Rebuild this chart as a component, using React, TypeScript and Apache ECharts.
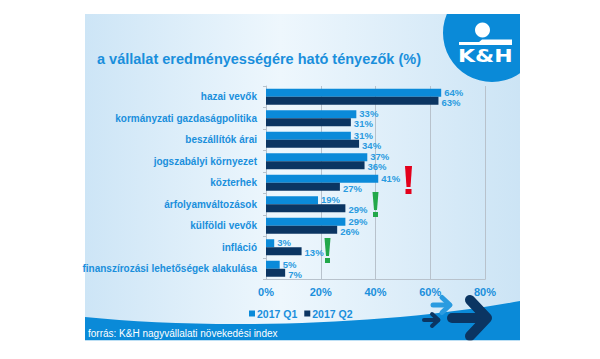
import React, { useEffect, useRef } from "react";
import * as echarts from "echarts";

const categories = [
  "hazai vevők",
  "kormányzati gazdaságpolitika",
  "beszállítók árai",
  "jogszabályi környezet",
  "közterhek",
  "árfolyamváltozások",
  "külföldi vevők",
  "infláció",
  "finanszírozási lehetőségek alakulása",
];
const q1Values = [64, 33, 31, 37, 41, 19, 29, 3, 5];
const q2Values = [63, 31, 34, 36, 27, 29, 26, 13, 7];
const seriesNames = ["2017 Q1", "2017 Q2"];
const xTicks = { min: 0, max: 80, interval: 20 };
const titleText = "a vállalat eredményességére ható tényezők (%)";
const sourceText = "forrás: K&H nagyvállalati növekedési index";

const LIGHT = "#0b8ad9";
const NAVY = "#0b3562";
const TEXTBLUE = "#1a8fdc";
const FONT = "Liberation Sans, Arial, sans-serif";

echarts.graphic.registerShape(
  "footerWave",
  echarts.graphic.extendPath("M85,317 C200,329 380,327 520,301 L520,340.5 L85,340.5 Z", {})
);

export default function App() {
  const ref = useRef<HTMLDivElement>(null);
  useEffect(() => {
    if (!ref.current) return;
    const chart = echarts.init(ref.current, undefined, { renderer: "svg" });
    const makeLabel = (dy: number) => ({
      show: true,
      position: "right",
      distance: 3,
      offset: [0, dy],
      formatter: "{c}%",
      color: "#2a9be0",
      fontWeight: "bold",
      fontSize: 9.5,
      lineHeight: 8,
      fontFamily: FONT,
    });
    chart.setOption({
      animation: false,
      textStyle: { fontFamily: FONT },
      grid: { left: 266, right: 115, top: 86, bottom: 79.5, containLabel: false },
      legend: {
        left: 244,
        top: 303,
        itemWidth: 6,
        itemHeight: 6,
        itemGap: 7,
        icon: "rect",
        data: seriesNames,
        textStyle: { color: TEXTBLUE, fontWeight: "bold", fontSize: 10.5, padding: [0, 0, 0, -3] },
      },
      xAxis: {
        type: "value",
        min: xTicks.min,
        max: xTicks.max,
        interval: xTicks.interval,
        axisLine: { show: true, lineStyle: { color: "#b8c2cc", width: 1 } },
        axisTick: { show: false },
        splitLine: { show: true, lineStyle: { color: "#b8c2cc", width: 1 } },
        axisLabel: {
          formatter: "{value}%",
          color: TEXTBLUE,
          fontWeight: "bold",
          fontSize: 11,
          margin: 7,
        },
      },
      yAxis: {
        type: "category",
        inverse: true,
        data: categories,
        axisLine: { show: true, lineStyle: { color: "#b8c2cc", width: 1 } },
        axisTick: { show: true, length: 3, lineStyle: { color: "#b8c2cc" } },
        axisLabel: {
          color: TEXTBLUE,
          fontWeight: "bold",
          fontSize: 10,
          margin: 9,
        },
      },
      series: [
        {
          name: seriesNames[0],
          type: "bar",
          data: q1Values,
          barWidth: 8,
          barGap: "0%",
          itemStyle: { color: LIGHT },
          label: makeLabel(-0.5),
        },
        {
          name: seriesNames[1],
          type: "bar",
          data: q2Values,
          barWidth: 8,
          barGap: "0%",
          itemStyle: { color: NAVY },
          label: makeLabel(1.5),
        },
      ],
      graphic: [
        {
          type: "rect",
          z: -100,
          silent: true,
          shape: { x: 85, y: 14, width: 435, height: 326.5 },
          style: {
            fill: new echarts.graphic.LinearGradient(0, 0, 1, 0, [
              { offset: 0, color: "#cde5f6" },
              { offset: 0.45, color: "#eef7fd" },
              { offset: 1, color: "#cce4f5" },
            ]),
          },
        },
        {
          type: "footerWave",
          z: 50,
          silent: true,
          style: { fill: "#0a8ad8" },
        },
        {
          type: "text",
          z: 51,
          x: 88,
          y: 333,
          style: {
            text: sourceText,
            fill: "#ffffff",
            fontSize: 10,
            fontFamily: FONT,
            verticalAlign: "middle",
          },
        },
        {
          type: "text",
          z: 51,
          x: 97,
          y: 59,
          style: {
            text: titleText,
            fill: TEXTBLUE,
            fontSize: 14.5,
            fontWeight: "bold",
            fontFamily: FONT,
            verticalAlign: "middle",
          },
        },
        // logo circle
        {
          type: "circle",
          z: 60,
          silent: true,
          shape: { cx: 492, cy: 33, r: 49 },
          style: { fill: "#0a8ad8" },
        },
        {
          type: "rect",
          z: 61,
          silent: true,
          shape: { x: 0, y: 0, width: 600, height: 14 },
          style: { fill: "#ffffff" },
        },
        {
          type: "rect",
          z: 61,
          silent: true,
          shape: { x: 520, y: 0, width: 80, height: 359 },
          style: { fill: "#ffffff" },
        },
        {
          type: "circle",
          z: 62,
          silent: true,
          shape: { cx: 482.5, cy: 30, r: 7.5 },
          style: { fill: "#ffffff" },
        },
        {
          type: "polygon",
          z: 62,
          silent: true,
          shape: {
            points: [
              [459, 42],
              [479, 42],
              [482, 39.5],
              [512, 39.5],
              [512, 45],
              [459, 45],
            ],
          },
          style: { fill: "#ffffff" },
        },
        {
          type: "text",
          z: 62,
          x: 458,
          y: 56,
          scaleX: 1.22,
          style: {
            text: "K&H",
            fill: "#ffffff",
            fontSize: 18,
            fontWeight: "bold",
            fontFamily: "DejaVu Sans, sans-serif",
            verticalAlign: "middle",
          },
        },
        // exclamation marks
        {
          type: "polygon",
          z: 40,
          silent: true,
          shape: { points: [[405, 166], [412, 166], [410.5, 187], [406.5, 187]] },
          style: { fill: "#e3001b" },
        },
        {
          type: "rect",
          z: 40,
          silent: true,
          shape: { x: 405.5, y: 189, width: 6, height: 5 },
          style: { fill: "#e3001b" },
        },
        {
          type: "polygon",
          z: 40,
          silent: true,
          shape: { points: [[372.5, 192], [378.5, 192], [377, 210], [374, 210]] },
          style: { fill: "#22a84a" },
        },
        {
          type: "rect",
          z: 40,
          silent: true,
          shape: { x: 373, y: 212, width: 5, height: 5 },
          style: { fill: "#22a84a" },
        },
        {
          type: "polygon",
          z: 40,
          silent: true,
          shape: { points: [[324.5, 238], [330.5, 238], [329, 256], [326, 256]] },
          style: { fill: "#22a84a" },
        },
        {
          type: "rect",
          z: 40,
          silent: true,
          shape: { x: 325, y: 258, width: 5, height: 5 },
          style: { fill: "#22a84a" },
        },
        // arrows
        {
          type: "polyline",
          z: 55,
          silent: true,
          shape: { points: [[433, 305], [449, 305]] },
          style: { stroke: "#2a9be0", lineWidth: 5, lineCap: "round", fill: null },
        },
        {
          type: "polyline",
          z: 55,
          silent: true,
          shape: { points: [[442, 297.5], [450, 305], [442, 312.5]] },
          style: { stroke: "#2a9be0", lineWidth: 5, lineCap: "round", lineJoin: "round", fill: null },
        },
        {
          type: "polyline",
          z: 55,
          silent: true,
          shape: { points: [[424, 320], [438, 320]] },
          style: { stroke: NAVY, lineWidth: 4, lineCap: "round", fill: null },
        },
        {
          type: "polyline",
          z: 55,
          silent: true,
          shape: { points: [[432, 314], [438.5, 320], [432, 326]] },
          style: { stroke: NAVY, lineWidth: 4, lineCap: "round", lineJoin: "round", fill: null },
        },
        {
          type: "polyline",
          z: 55,
          silent: true,
          shape: { points: [[452, 318], [485, 318]] },
          style: { stroke: NAVY, lineWidth: 10, lineCap: "round", fill: null },
        },
        {
          type: "polyline",
          z: 55,
          silent: true,
          shape: { points: [[470, 300], [487, 318], [470, 336]] },
          style: { stroke: NAVY, lineWidth: 10, lineCap: "round", lineJoin: "round", fill: null },
        },
        {
          type: "rect",
          z: 58,
          silent: true,
          shape: { x: 0, y: 340.5, width: 600, height: 20 },
          style: { fill: "#ffffff" },
        },
      ],
    });
    return () => chart.dispose();
  }, []);
  return (
    <div
      ref={ref}
      style={{ position: "fixed", left: 0, top: 0, width: 600, height: 359, background: "#ffffff" }}
    />
  );
}
